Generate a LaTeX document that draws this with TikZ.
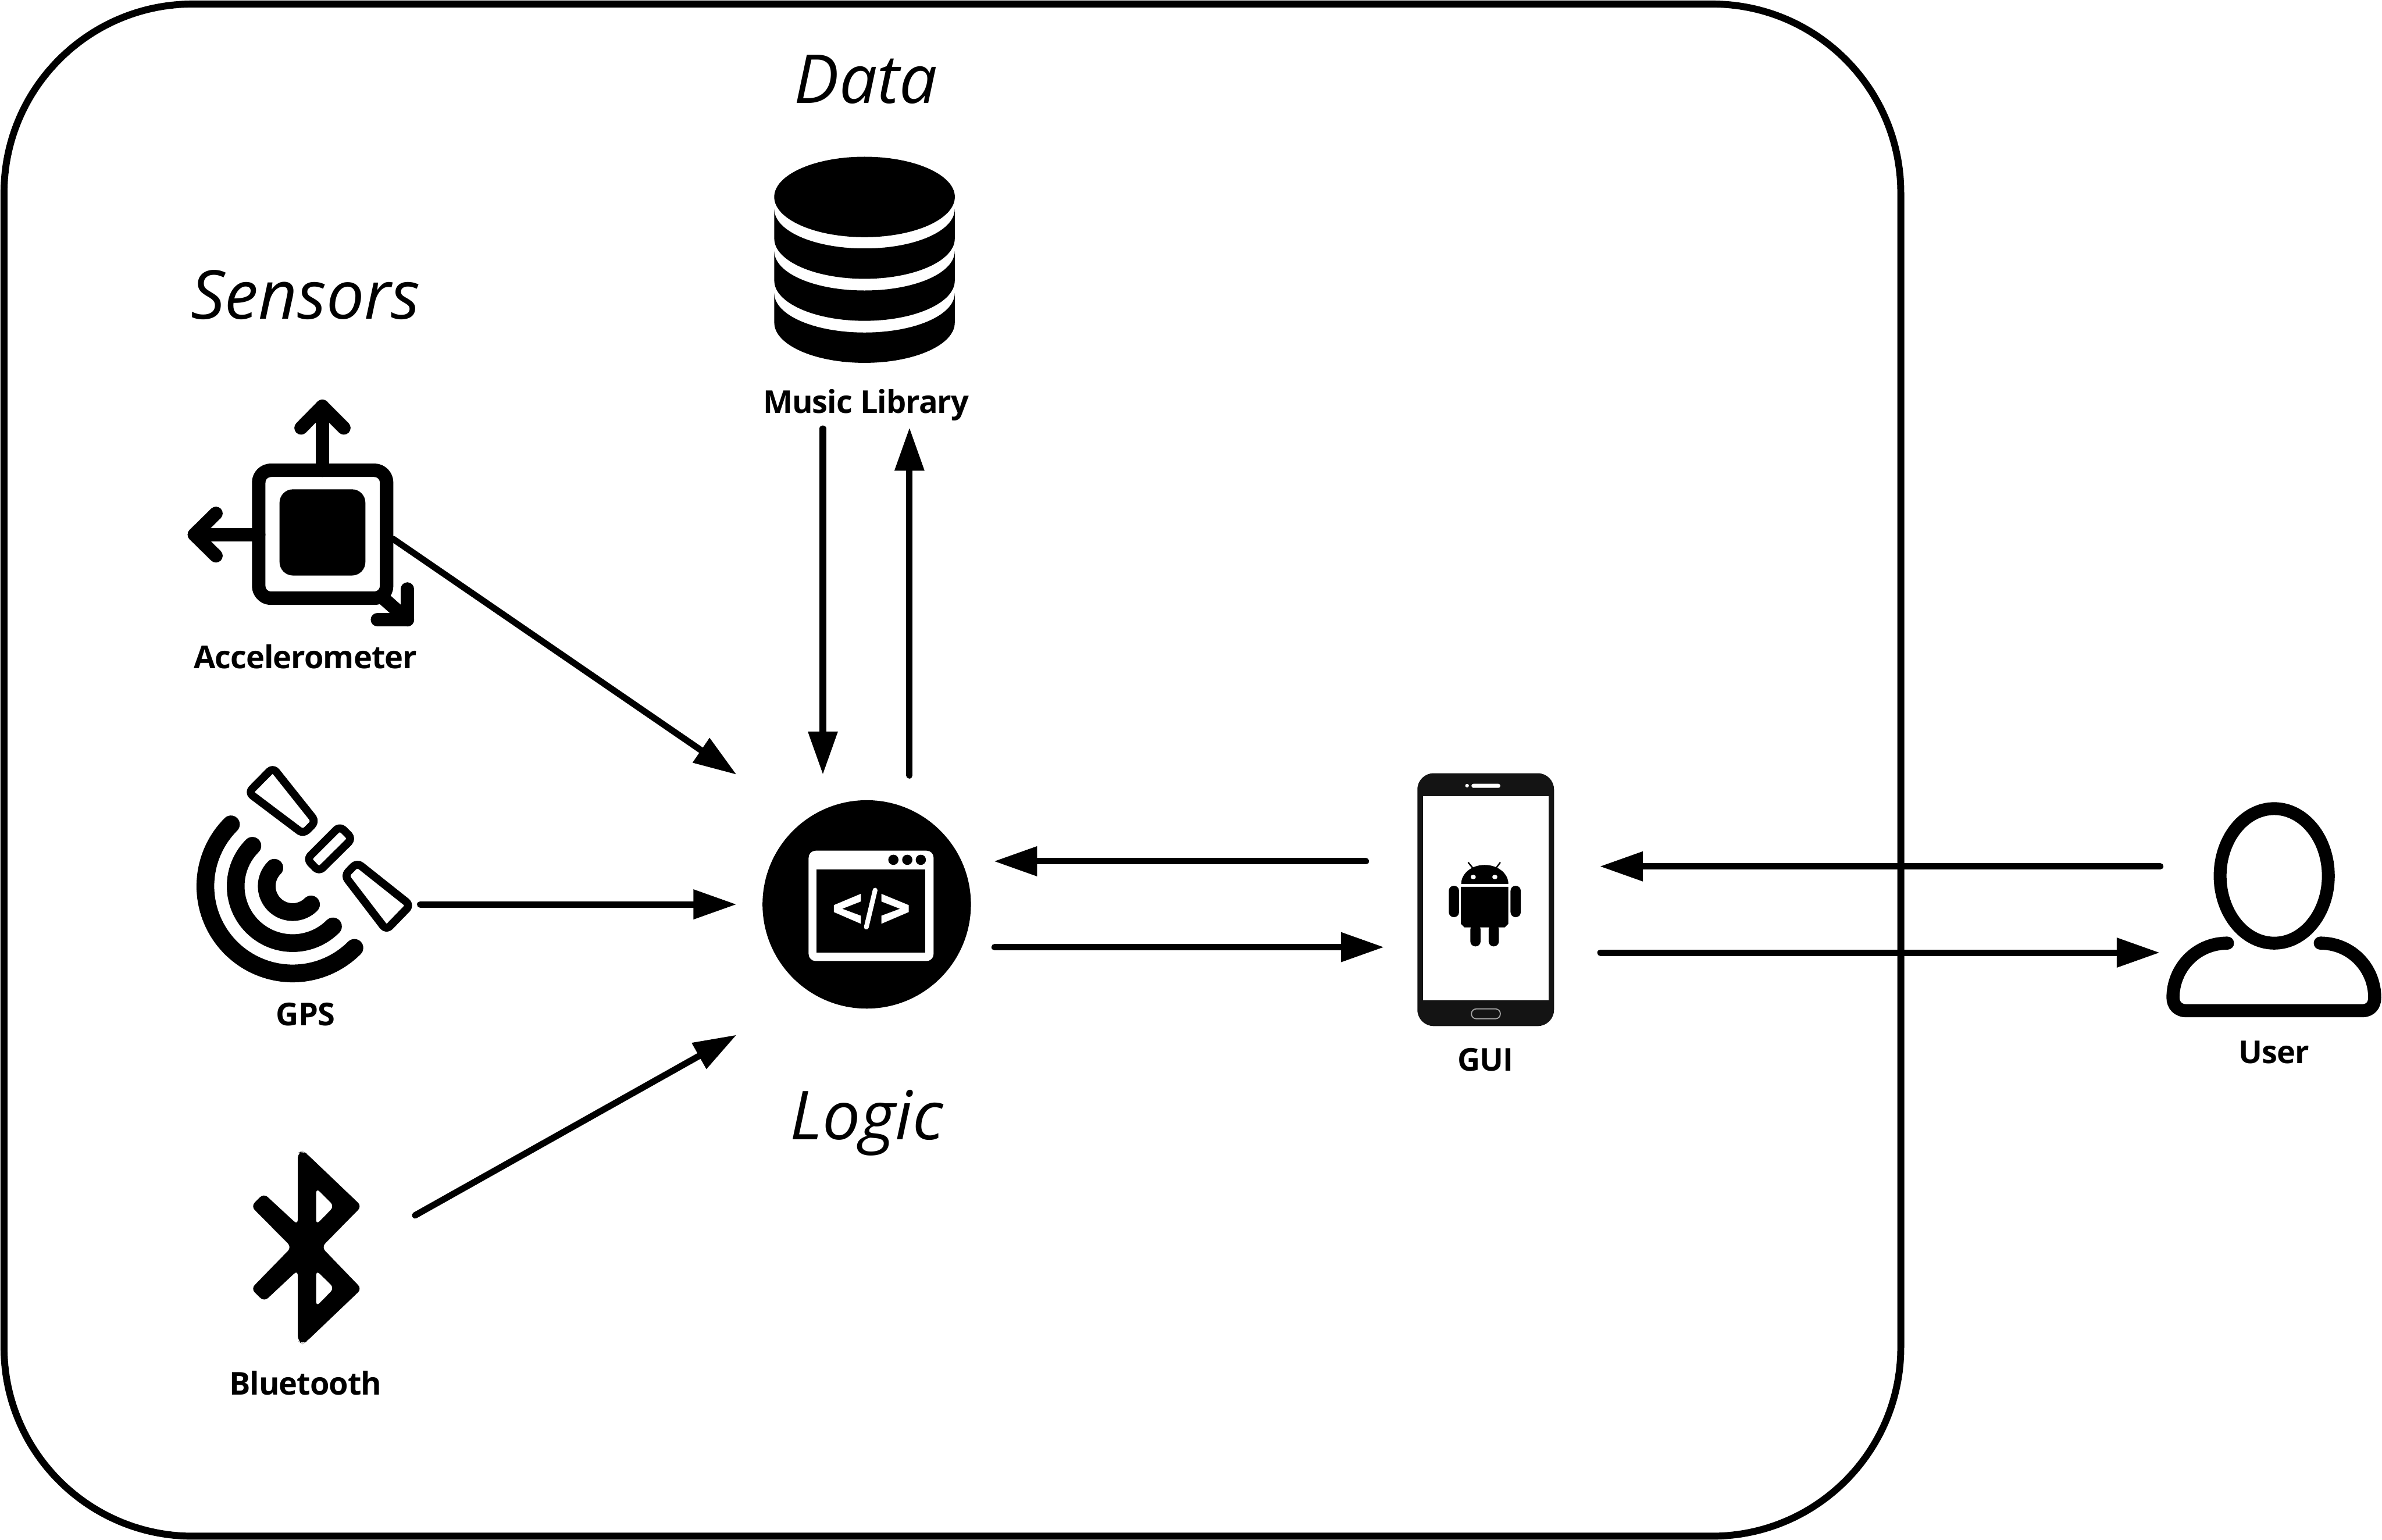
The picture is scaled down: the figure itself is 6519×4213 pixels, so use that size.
\documentclass[tikz,border=0pt]{standalone}
\usepackage{fontspec}
\setmainfont{Open Sans}
\newfontfamily\labfont[LetterSpace=-1.8]{Open Sans}
\usetikzlibrary{arrows.meta,shapes.geometric}
\def\un{0.28453pt}
\tikzset{
  conn/.style={line width=5pt, line cap=round, -{Triangle[length=33.6pt,width=22pt]}},
  lab/.style={font=\labfont\fontsize{24.5}{30}\selectfont\bfseries, anchor=base, inner sep=0pt},
  heading/.style={font=\fontsize{52.5}{60}\selectfont\itshape, anchor=base, inner sep=0pt},
  ico/.style={line width=10.5pt, line cap=round, line join=round},
  sat/.style={line width=6.2pt, line join=round, rounded corners=4pt},
  arcs/.style={line width=13.8pt, line cap=round},
  blob/.style={fill=black, inner sep=0pt},
}
\definecolor{phonebody}{RGB}{20,20,20}
\begin{document}
\begin{tikzpicture}[x=0.01cm,y=-0.01cm]
\useasboundingbox (0,0) rectangle (6519,4213);
\fill[white] (0,0) rectangle (6519,4213);
% frame
\draw[line width=5.4pt, rounded corners=147pt] (11,11) rectangle (5202,4204);
% Data
\node[heading] (tdata) at (2370,283) {Data};
\node[ellipse, blob, minimum width=494*\un, minimum height=220*\un] (db) at (2366,539) {};
\foreach \d in {0,115,230}{
\begin{scope}[shift={(0,\d)}]
\fill (2119,572) -- (2119,653) .. controls (2119,714) and (2230,763) .. (2366,763) .. controls (2502,763) and (2613,714) .. (2613,653) -- (2613,572) .. controls (2613,633) and (2502,680) .. (2366,680) .. controls (2230,680) and (2119,633) .. (2119,572) -- cycle;
\end{scope}}
\node[lab] (tmusic) at (2370,1131) {Music Library};
% Sensors
\node[heading] (tsensors) at (836,873) {Sensors};
\draw[ico, rounded corners=9.5pt] (708,1287) rectangle (1058,1637);
\fill[rounded corners=10.5pt] (765,1339) rectangle (1000,1575);
\draw[ico] (882,1287) -- (882,1112);
\draw[ico] (824,1171) -- (882,1112) -- (941,1171);
\draw[ico] (708,1463) -- (532,1463);
\draw[ico] (591,1405) -- (532,1463) -- (591,1521);
\draw[ico] (1049,1637) -- (1115,1696);
\draw[ico] (1115,1612) -- (1115,1696) -- (1033,1696);
\node[lab] (taccel) at (836,1830) {Accelerometer};
% GPS
\foreach \r in {239,156,71}{
\draw[arcs] plot[domain=225:45,samples=70] ({801+\r*cos(\x)},{2425+\r*sin(\x)});}
\draw[sat] (747,2101) -- (680,2169) -- (830,2282) -- (864,2248) -- cycle;
\draw[sat] (930,2261) -- (964,2295) -- (873,2385) -- (840,2351) -- cycle;
\draw[sat] (977,2361) -- (943,2396) -- (1057,2545) -- (1123,2477) -- cycle;
\node[lab] (tgps) at (836,2806) {GPS};
% Bluetooth
\fill[even odd rule, rounded corners=4pt]
 (815,3155) -- (828,3150) -- (838,3156) -- (990,3301) -- (880,3413) -- (990,3527) -- (838,3672) -- (828,3678) -- (815,3670) -- (815,3476) -- (723,3562) -- (687,3527) -- (798,3413) -- (687,3301) -- (722,3266) -- (815,3352) -- cycle
 (865,3251) -- (915,3301) -- (865,3352) -- cycle
 (865,3476) -- (915,3525) -- (865,3576) -- cycle;
\node[lab] (tbt) at (836,3817) {Bluetooth};
% Logic
\node[circle, blob, minimum size=570*\un] (logic) at (2372,2475) {};
\fill[white, rounded corners=5.5pt] (2213,2328) rectangle (2555,2630);
\fill (2235,2379) rectangle (2532,2607);
\foreach \x [count=\i] in {2445,2483,2520}{\node[circle, blob, minimum size=28*\un] (dot\i) at (\x,2353) {};}
\fill[white] (2356,2446) -- (2282,2477) -- (2282,2496) -- (2356,2528) -- (2356,2506) -- (2305,2487) -- (2356,2467) -- cycle;
\fill[white] (2412,2446) -- (2487,2477) -- (2487,2496) -- (2412,2528) -- (2412,2506) -- (2463,2487) -- (2412,2467) -- cycle;
\draw[white, line width=3.7pt, line cap=round] (2395,2436) -- (2371,2537);
\node[heading] (tlogic) at (2372,3119) {Logic};
% Phone
\fill[phonebody, rounded corners=12.7pt] (3879,2116) rectangle (4253,2808);
\fill[white] (3894,2179) rectangle (4238,2738);
\fill[white, rounded corners=1.5pt] (4027,2145) rectangle (4106,2156);
\node[circle, fill=white, inner sep=0pt, minimum size=10*\un] (spk) at (4015,2150) {};
\draw[gray!70, line width=0.8pt, rounded corners=3.7pt] (4027,2761) rectangle (4106,2788);
\fill (3998,2427) -- (4128,2427) -- (4128,2528) -- (4118,2538) -- (4008,2538) -- (3998,2528) -- cycle;
\fill[rounded corners=3.9pt] (4024,2530) rectangle (4052,2590);
\fill[rounded corners=3.9pt] (4074,2530) rectangle (4102,2590);
\fill[rounded corners=3.9pt] (3965,2424) rectangle (3993,2510);
\fill[rounded corners=3.9pt] (4134,2424) rectangle (4162,2510);
\fill (3999,2419) .. controls (3999,2390) and (4028,2367) .. (4063,2367) .. controls (4099,2367) and (4128,2390) .. (4128,2419) -- cycle;
\node[ellipse, fill=white, inner sep=0pt, minimum width=14*\un, minimum height=12*\un] (eyeL) at (4032,2400) {};
\node[ellipse, fill=white, inner sep=0pt, minimum width=14*\un, minimum height=12*\un] (eyeR) at (4091,2400) {};
\draw[line width=1.1pt] (4018,2360) -- (4031,2376) (4106,2360) -- (4094,2376);
\node[lab] (tgui) at (4066,2931) {GUI};
% User
\node[ellipse, draw=black, line width=10pt, inner sep=0pt, minimum width=296*\un, minimum height=368*\un] (uhead) at (6224,2397) {};
\draw[line width=10.2pt, line cap=round] (6096,2581) .. controls (6010,2581) and (5947,2650) .. (5947,2730) .. controls (5947,2752) and (5962,2766) .. (5983,2766) -- (6465,2766) .. controls (6486,2766) and (6499,2752) .. (6499,2730) .. controls (6499,2650) and (6436,2581) .. (6350,2581);
\node[lab] (tuser) at (6224,2910) {User};
% connector ends
\coordinate (a1) at (1076,1475); \coordinate (a2) at (2016,2120);
\coordinate (g1) at (1150,2475); \coordinate (g2) at (2016,2475);
\coordinate (b1) at (1136,3326); \coordinate (b2) at (2016,2832);
\coordinate (m1) at (2252,1173); \coordinate (m2) at (2252,2120);
\coordinate (l1) at (2489,2122); \coordinate (l2) at (2489,1170);
\coordinate (p1) at (3738,2357); \coordinate (p2) at (2720,2357);
\coordinate (q1) at (2722,2592); \coordinate (q2) at (3788,2592);
\coordinate (r1) at (4380,2607); \coordinate (r2) at (5911,2607);
\coordinate (s1) at (5912,2371); \coordinate (s2) at (4378,2371);
\foreach \u/\v in {a1/a2,g1/g2,b1/b2,m1/m2,l1/l2,p1/p2,q1/q2,r1/r2,s1/s2}{\draw[conn] (\u) -- (\v);}
\end{tikzpicture}
\end{document}
